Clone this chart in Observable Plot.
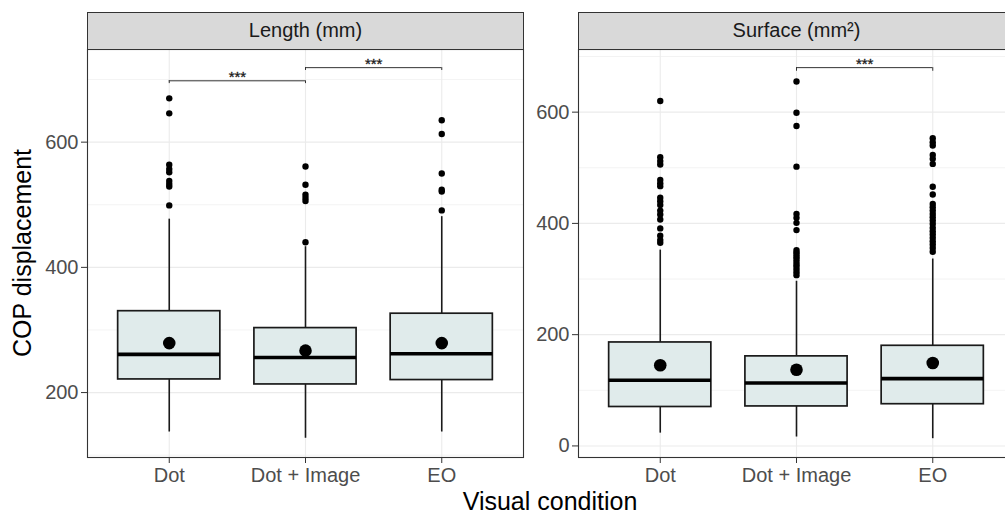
<!DOCTYPE html>
<html><head><meta charset="utf-8">
<script src="https://cdn.jsdelivr.net/npm/d3@7"></script>
<script src="https://cdn.jsdelivr.net/npm/@observablehq/plot@0.6"></script>
<style>
body{margin:0;background:#fff;font-family:"Liberation Sans",Arial,sans-serif;}
#wrap{position:relative;width:1005px;height:518px;overflow:hidden;background:#fff;}
.strip{position:absolute;top:12px;height:37px;background:#d9d9d9;border:1px solid #333;border-bottom:none;box-sizing:border-box;color:#1a1a1a;font-size:20px;line-height:35px;text-align:center;}
.panel{position:absolute;top:0;}
.panel svg{max-width:none !important;display:block;}
#ytitle{position:absolute;left:22px;top:253px;transform:translate(-50%,-50%) rotate(-90deg);font-size:25px;color:#000;white-space:nowrap;}
#xtitle{position:absolute;left:550px;top:486px;transform:translateX(-50%);font-size:25px;line-height:30px;color:#000;white-space:nowrap;}
</style></head>
<body>
<div id="wrap">
  <div id="p1" class="panel" style="left:0px;width:524px"></div>
  <div id="p2" class="panel" style="left:530px;width:485px"></div>
  <div class="strip" style="left:87px;width:437px">Length (mm)</div>
  <div class="strip" style="left:578px;width:437px">Surface (mm²)</div>
  <div id="ytitle">COP displacement</div>
  <div id="xtitle">Visual condition</div>
</div>
<script>
const conditions = ["Dot", "Dot + Image", "EO"];

// Length (mm)
const lengthQ1 = [221, 213, 220];
const lengthMedian = [261, 256, 262];
const lengthQ3 = [330, 303, 326];
const lengthLow = [137, 127, 137];
const lengthHigh = [477, 433, 481];
const lengthMean = [279, 267, 279];
const lengthOutliers = [
  [670, 646, 564, 557, 552, 538, 533, 529, 499],
  [561, 532, 516, 511, 506, 440],
  [635, 613, 550, 524, 521, 491]
];
const lengthBrackets = [
  {from: "Dot", to: "Dot + Image", y: 698, label: "***"},
  {from: "Dot + Image", to: "EO", y: 719, label: "***"}
];

// Surface (mm²)
const surfaceQ1 = [70, 71, 75];
const surfaceMedian = [118, 113, 121];
const surfaceQ3 = [186, 161, 180];
const surfaceLow = [23, 16, 13];
const surfaceHigh = [352, 296, 336];
const surfaceMean = [145, 137, 149];
const surfaceOutliers = [
  [620, 519, 512, 506, 478, 472, 467, 446, 440, 433, 423, 416, 407, 391, 378, 370, 365],
  [655, 599, 575, 502, 417, 410, 401, 388, 352, 348, 344, 340, 336, 331, 326, 322, 317, 312, 307],
  [553, 546, 540, 523, 516, 507, 466, 452, 435, 429, 423, 417, 411, 405, 399, 392, 386, 380, 374, 368, 362, 356, 349]
];
const surfaceBrackets = [
  {from: "Dot + Image", to: "EO", y: 680, label: "***"}
];

const boxWidth = 0.75;

function panel({yDomain, major, minor, q1, med, q3, lo, hi, mean, outliers, brackets, tip, width, marginLeft}) {
  const stats = conditions.map((c, i) => ({pos: i + 1, q1: q1[i], med: med[i], q3: q3[i], lo: lo[i], hi: hi[i], mean: mean[i]}));
  const outs = outliers.flatMap((arr, i) => arr.map(v => ({pos: i + 1, v})));
  const br = brackets.map(b => ({a: conditions.indexOf(b.from) + 1, b: conditions.indexOf(b.to) + 1, y: b.y, label: b.label}));
  const font = '"Liberation Sans", Arial, sans-serif';
  return Plot.plot({
    width, height: 492, marginLeft, marginRight: 1, marginTop: 49, marginBottom: 35,
    style: {fontFamily: font, background: "transparent", overflow: "visible"},
    x: {domain: [0.4, 3.6]},
    y: {domain: yDomain},
    marks: [
      Plot.ruleY(minor, {stroke: "#ebebeb", strokeWidth: 0.6}),
      Plot.ruleY(major, {stroke: "#ebebeb", strokeWidth: 1.1}),
      Plot.ruleX([1, 2, 3], {stroke: "#ebebeb", strokeWidth: 1.1}),
      Plot.ruleX(stats, {x: "pos", y1: "lo", y2: "q1", stroke: "#1a1a1a", strokeWidth: 1.6}),
      Plot.ruleX(stats, {x: "pos", y1: "q3", y2: "hi", stroke: "#1a1a1a", strokeWidth: 1.6}),
      Plot.rect(stats, {x1: d => d.pos - boxWidth / 2, x2: d => d.pos + boxWidth / 2, y1: "q1", y2: "q3", fill: "#e0ebeb", stroke: "#1a1a1a", strokeWidth: 1.7}),
      Plot.ruleY(stats, {x1: d => d.pos - boxWidth / 2, x2: d => d.pos + boxWidth / 2, y: "med", stroke: "#000", strokeWidth: 3.6}),
      Plot.dot(outs, {x: "pos", y: "v", r: 3.2, fill: "#000"}),
      Plot.dot(stats, {x: "pos", y: "mean", r: 6.3, fill: "#000"}),
      Plot.ruleY(br, {x1: "a", x2: "b", y: "y", stroke: "#333", strokeWidth: 1}),
      Plot.ruleX(br, {x: "a", y1: "y", y2: d => d.y - tip, stroke: "#333", strokeWidth: 1}),
      Plot.ruleX(br, {x: "b", y1: "y", y2: d => d.y - tip, stroke: "#333", strokeWidth: 1}),
      Plot.text(br, {x: d => (d.a + d.b) / 2, y: "y", text: "label", lineAnchor: "bottom", dy: 1, fontSize: 15, fill: "#1a1a1a", stroke: "#1a1a1a", strokeWidth: 0.3, fontFamily: font}),
      Plot.frame({stroke: "#333", strokeWidth: 1.1}),
      Plot.axisY(major, {tickSize: 6, tickPadding: 3, fontSize: 20, color: "#4d4d4d", stroke: "#333", label: null}),
      Plot.axisX([1, 2, 3], {tickSize: 6, tickPadding: 4, fontSize: 20, color: "#4d4d4d", stroke: "#333", tickFormat: d => conditions[d - 1], label: null})
    ]
  });
}

document.getElementById("p1").append(panel({
  yDomain: [96.3, 748], major: [200, 400, 600], minor: [100, 300, 500, 700],
  q1: lengthQ1, med: lengthMedian, q3: lengthQ3, lo: lengthLow, hi: lengthHigh, mean: lengthMean,
  outliers: lengthOutliers, brackets: lengthBrackets, tip: 4.5, width: 524, marginLeft: 87
}));
document.getElementById("p2").append(panel({
  yDomain: [-20.8, 712.6], major: [0, 200, 400, 600], minor: [100, 300, 500, 700],
  q1: surfaceQ1, med: surfaceMedian, q3: surfaceQ3, lo: surfaceLow, hi: surfaceHigh, mean: surfaceMean,
  outliers: surfaceOutliers, brackets: surfaceBrackets, tip: 6.5, width: 485, marginLeft: 48
}));
</script>
</body></html>
